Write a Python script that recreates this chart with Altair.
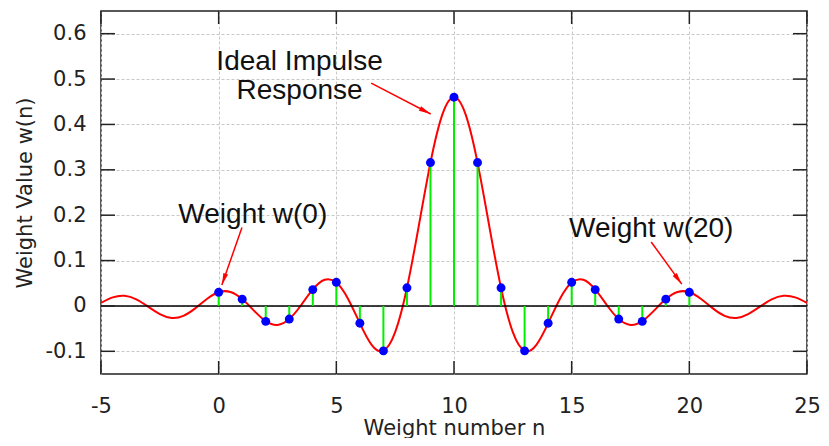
import altair as alt
import pandas as pd

curve_n = [-5.0, -4.5, -4.0, -3.5, -3.0, -2.5, -2.0, -1.5, -1.0, -0.5,
           0.0, 0.5, 1.0, 1.5, 2.0, 2.5, 3.0, 3.5, 4.0, 4.5,
           5.0, 5.5, 6.0, 6.5, 7.0, 7.5, 8.0, 8.5, 9.0, 9.5,
           10.0, 10.5, 11.0, 11.5, 12.0, 12.5, 13.0, 13.5, 14.0, 14.5,
           15.0, 15.5, 16.0, 16.5, 17.0, 17.5, 18.0, 18.5, 19.0, 19.5,
           20.0, 20.5, 21.0, 21.5, 22.0, 22.5, 23.0, 23.5, 24.0, 24.5, 25.0]
curve_w = [0.0066, 0.0189, 0.0223, 0.0145, -0.0015, -0.0180, -0.0265, -0.0219, -0.0054, 0.0154,
           0.0303, 0.0308, 0.0151, -0.0104, -0.0336, -0.0419, -0.0290, 0.0015, 0.0363, 0.0576,
           0.0515, 0.0154, -0.0383, -0.0856, -0.0987, -0.0578, 0.0396, 0.1755, 0.3158, 0.4210,
           0.4600,
           0.4210, 0.3158, 0.1755, 0.0396, -0.0578, -0.0987, -0.0856, -0.0383, 0.0154, 0.0515,
           0.0576, 0.0363, 0.0015, -0.0290, -0.0419, -0.0336, -0.0104, 0.0151, 0.0308, 0.0303,
           0.0154, -0.0054, -0.0219, -0.0265, -0.0180, -0.0015, 0.0145, 0.0223, 0.0189, 0.0066]

# Filter weights w(0) .. w(20)
weight_n = [0, 1, 2, 3, 4, 5, 6, 7, 8, 9, 10, 11, 12, 13, 14, 15, 16, 17, 18, 19, 20]
weight_w = [0.030, 0.015, -0.034, -0.029, 0.036, 0.052, -0.038, -0.099, 0.040, 0.316, 0.460,
            0.316, 0.040, -0.099, -0.038, 0.052, 0.036, -0.029, -0.034, 0.015, 0.030]

x_ticks = [-5, 0, 5, 10, 15, 20, 25]
y_ticks = [-0.1, 0, 0.1, 0.2, 0.3, 0.4, 0.5, 0.6]

label_text = ["Ideal Impulse", "Response", "Weight w(0)", "Weight w(20)"]
label_x = [3.44, 3.44, 1.45, 18.38]
label_y = [0.52, 0.456, 0.182, 0.152]

arrow_x1 = [6.48, 0.99, 18.38]
arrow_y1 = [0.491, 0.173, 0.141]
arrow_x2 = [9.01, 0.135, 19.68]
arrow_y2 = [0.423, 0.046, 0.048]
arrow_angle = [117, 199, 144]

W, H = 706, 363
TICK = 13
FRAME = "#222222"

xs = alt.Scale(domain=[-5, 25], nice=False, zero=False)
ys = alt.Scale(domain=[-0.15, 0.65], nice=False, zero=False)

common_axis = dict(
    grid=True, gridColor="#c8c8c8", gridDash=[3, 2], gridWidth=1,
    ticks=False, domain=False,
    labelFont="DejaVu Sans", labelFontSize=21, labelColor="#222222",
    labelFlush=False, labelOverlap=False,
    labelExpr="datum.value == 0 ? '0' : replace(datum.label, '\u2212', '-')",
    titleFont="DejaVu Sans", titleFontSize=21, titleFontWeight="normal",
    titleColor="#222222",
)
x_axis = alt.Axis(title="Weight number n", values=x_ticks, labelPadding=21,
                  titlePadding=1, **common_axis)
y_axis = alt.Axis(title="Weight Value w(n)", values=y_ticks, labelPadding=15,
                  titlePadding=10, **common_axis)


def X(field):
    return alt.X(field, scale=xs, axis=x_axis)


def Y(field):
    return alt.Y(field, scale=ys, axis=y_axis)


curve_df = pd.DataFrame({"n": curve_n, "w": curve_w})
weight_df = pd.DataFrame({"n": weight_n, "w": weight_w})
label_df = pd.DataFrame({"text": label_text, "x": label_x, "y": label_y})
arrow_df = pd.DataFrame({"x1": arrow_x1, "y1": arrow_y1, "x2": arrow_x2,
                         "y2": arrow_y2, "angle": arrow_angle})
xt_df = pd.DataFrame({"t": x_ticks})
yt_df = pd.DataFrame({"t": y_ticks})

curve = alt.Chart(curve_df).mark_line(
    color="#ff0000", strokeWidth=2, interpolate="natural"
).encode(x=X("n:Q"), y=Y("w:Q"))

zero_line = alt.Chart(pd.DataFrame({"z": [0]})).mark_rule(
    color="black", strokeWidth=1.5
).encode(y=Y("z:Q"))

stems = alt.Chart(weight_df).mark_rule(color="#00f000", strokeWidth=2).encode(
    x=X("n:Q"), y=Y("w:Q"), y2=alt.datum(0),
)

dots = alt.Chart(weight_df).mark_circle(color="#0000ff", size=80, opacity=1).encode(
    x=X("n:Q"), y=Y("w:Q"),
)

tick_style = dict(color=FRAME, strokeWidth=1.5)
ticks_bottom = alt.Chart(xt_df).mark_rule(**tick_style).encode(
    x=X("t:Q"), y=alt.value(H), y2=alt.value(H - TICK))
ticks_top = alt.Chart(xt_df).mark_rule(**tick_style).encode(
    x=X("t:Q"), y=alt.value(0), y2=alt.value(TICK))
ticks_left = alt.Chart(yt_df).mark_rule(**tick_style).encode(
    y=Y("t:Q"), x=alt.value(0), x2=alt.value(TICK + 1))
ticks_right = alt.Chart(yt_df).mark_rule(**tick_style).encode(
    y=Y("t:Q"), x=alt.value(W - TICK - 1), x2=alt.value(W))

labels = alt.Chart(label_df).mark_text(
    font="Liberation Sans", fontSize=28, align="center", baseline="alphabetic",
    color="#111111"
).encode(x=X("x:Q"), y=Y("y:Q"), text="text:N")

arrow_lines = alt.Chart(arrow_df).mark_rule(color="#ff0000", strokeWidth=1.5).encode(
    x=X("x1:Q"), y=Y("y1:Q"), x2="x2:Q", y2="y2:Q",
)

arrow_heads = alt.Chart(arrow_df).mark_point(
    shape="M0,0L0.42,2L-0.42,2Z", filled=True, color="#ff0000", size=144, opacity=1
).encode(
    x=X("x2:Q"), y=Y("y2:Q"),
    angle=alt.Angle("angle:Q", scale=None),
)

chart = alt.layer(
    curve, zero_line, stems, dots,
    ticks_bottom, ticks_top, ticks_left, ticks_right,
    labels, arrow_lines, arrow_heads,
).properties(
    width=W, height=H,
    padding={"left": 6, "top": 2, "right": 0, "bottom": 0},
    background="white",
).configure_view(stroke=FRAME, strokeWidth=1.5)

chart.save("out.html", embed_options={"renderer": "svg", "actions": False})
